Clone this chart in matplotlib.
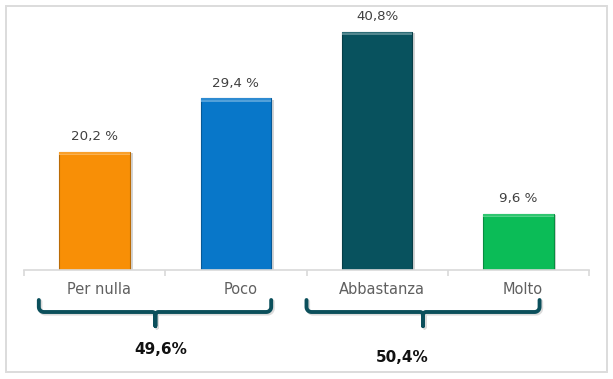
import numpy as np
import matplotlib
matplotlib.use("Agg")
import matplotlib.pyplot as plt
from matplotlib.patches import Rectangle
from matplotlib.transforms import ScaledTranslation
import matplotlib.patheffects as pe

categories = ["Per nulla", "Poco", "Abbastanza", "Molto"]
values = [20.2, 29.4, 40.8, 9.6]
value_labels = ["20,2 %", "29,4 %", "40,8%", "9,6 %"]
colors = ["#f88f06", "#0877c9", "#08525e", "#0bbc57"]
group_labels = ["49,6%", "50,4%"]
groups = [(0, 1), (2, 3)]


def shade(c, f):
    rgb = np.array(matplotlib.colors.to_rgb(c))
    if f > 0:
        rgb = rgb + (1 - rgb) * f
    else:
        rgb = rgb * (1 + f)
    return tuple(np.clip(rgb, 0, 1))


W, H = 613, 379
fig = plt.figure(figsize=(W / 100, H / 100), dpi=100)
fig.patch.set_facecolor("white")

# outer light frame
fig.patches.append(Rectangle((6 / W, 7 / H), 601 / W, 366 / H, transform=fig.transFigure,
                             fill=False, edgecolor="#dcdcdc", lw=1.4))

ax = fig.add_axes([24 / W, 1 - 270 / H, 565 / W, 264 / H])
ax.set_xlim(-0.5, len(categories) - 0.5)
ax.set_ylim(0, 264 / 5.84)

x = np.arange(len(categories))
bars = ax.bar(x, values, width=0.5, color=colors, zorder=2,
              edgecolor=[shade(c, -0.25) for c in colors], linewidth=0.8)
for b in bars:
    b.set_path_effects([pe.SimplePatchShadow(offset=(2, -1), alpha=0.25, shadow_rgbFace="#555555"),
                        pe.Normal()])
# light bevel on top of each bar
for xi, v, c in zip(x, values, colors):
    ax.bar(xi, 0.55, width=0.5, bottom=v - 0.55, color=shade(c, 0.3), zorder=3, linewidth=0)
    ax.bar(xi, 0.3, width=0.5, bottom=v - 0.3, color=shade(c, 0.15), zorder=3, linewidth=0)

for xi, v, t in zip(x, values, value_labels):
    ax.annotate(t, (xi, v), xytext=(0, 11), textcoords="offset points",
                ha="center", va="center", fontsize=9.6, color="#404040")

for s in ["top", "left", "right"]:
    ax.spines[s].set_visible(False)
ax.spines["bottom"].set_color("#d9d9d9")
ax.spines["bottom"].set_linewidth(1.2)
ax.set_yticks([])
ax.set_xticks(x)
ax.set_xticklabels(categories, fontsize=10.5, color="#606060")
ax.tick_params(axis="x", which="major", length=0, pad=8.5)
ax.set_xticks(np.arange(len(categories) + 1) - 0.5, minor=True)
ax.tick_params(axis="x", which="minor", length=4, color="#d9d9d9", width=1.2)
for lab in ax.get_xticklabels():
    lab.set_transform(lab.get_transform() + ScaledTranslation(4.5 / 100, 0, fig.dpi_scale_trans))

# braces under the category groups (pixel layout, y measured from top)
fig.canvas.draw()
brace_shift = [(-0.395, 0.25, -0.07), (-0.5, 0.15, -0.175)]
label_pos = [(0.465, 350), (2.18, 358)]
teal = "#0b4f5b"


def px(xd):
    return ax.transData.transform((xd, 0))[0]


def brace_pts(x0, x1, xt, ytop, ymid, ybot, r=5, rt=3):
    t = np.linspace(0, np.pi / 2, 10)
    pts = [(x0, ytop)]
    pts += [(x0 + r - r * np.cos(a), ymid - r + r * np.sin(a)) for a in t]
    pts += [(xt - rt + rt * np.sin(a), ymid + rt - rt * np.cos(a)) for a in t]
    pts.append((xt, ybot))
    pts += [(xt + rt - rt * np.cos(a), ymid + rt - rt * np.sin(a)) for a in t]
    pts += [(x1 - r + r * np.sin(a), ymid - r + r * np.cos(a)) for a in t]
    pts.append((x1, ytop))
    return np.array(pts)


for (i0, i1), (a, b, c), lab, (lx, ly) in zip(groups, brace_shift, group_labels, label_pos):
    x0 = px(i0 + a)
    x1 = px(i1 + b)
    xt = px((i0 + i1) / 2 + c)
    pts = brace_pts(x0, x1, xt, 300, 312, 326)
    pts[:, 1] = H - pts[:, 1]
    fig.add_artist(plt.Line2D(pts[:, 0] + 1.5, pts[:, 1] - 1.5, transform=None, color="#999999",
                              lw=3, alpha=0.35, solid_capstyle="round", solid_joinstyle="round"))
    fig.add_artist(plt.Line2D(pts[:, 0], pts[:, 1], transform=None, color=teal,
                              lw=2.8, solid_capstyle="round", solid_joinstyle="round"))
    fig.text(px(lx) / W, 1 - ly / H, lab, ha="center", va="center",
             fontsize=11, fontweight="bold", color="#111111")

fig.savefig("out.png", dpi=100, facecolor="white")
